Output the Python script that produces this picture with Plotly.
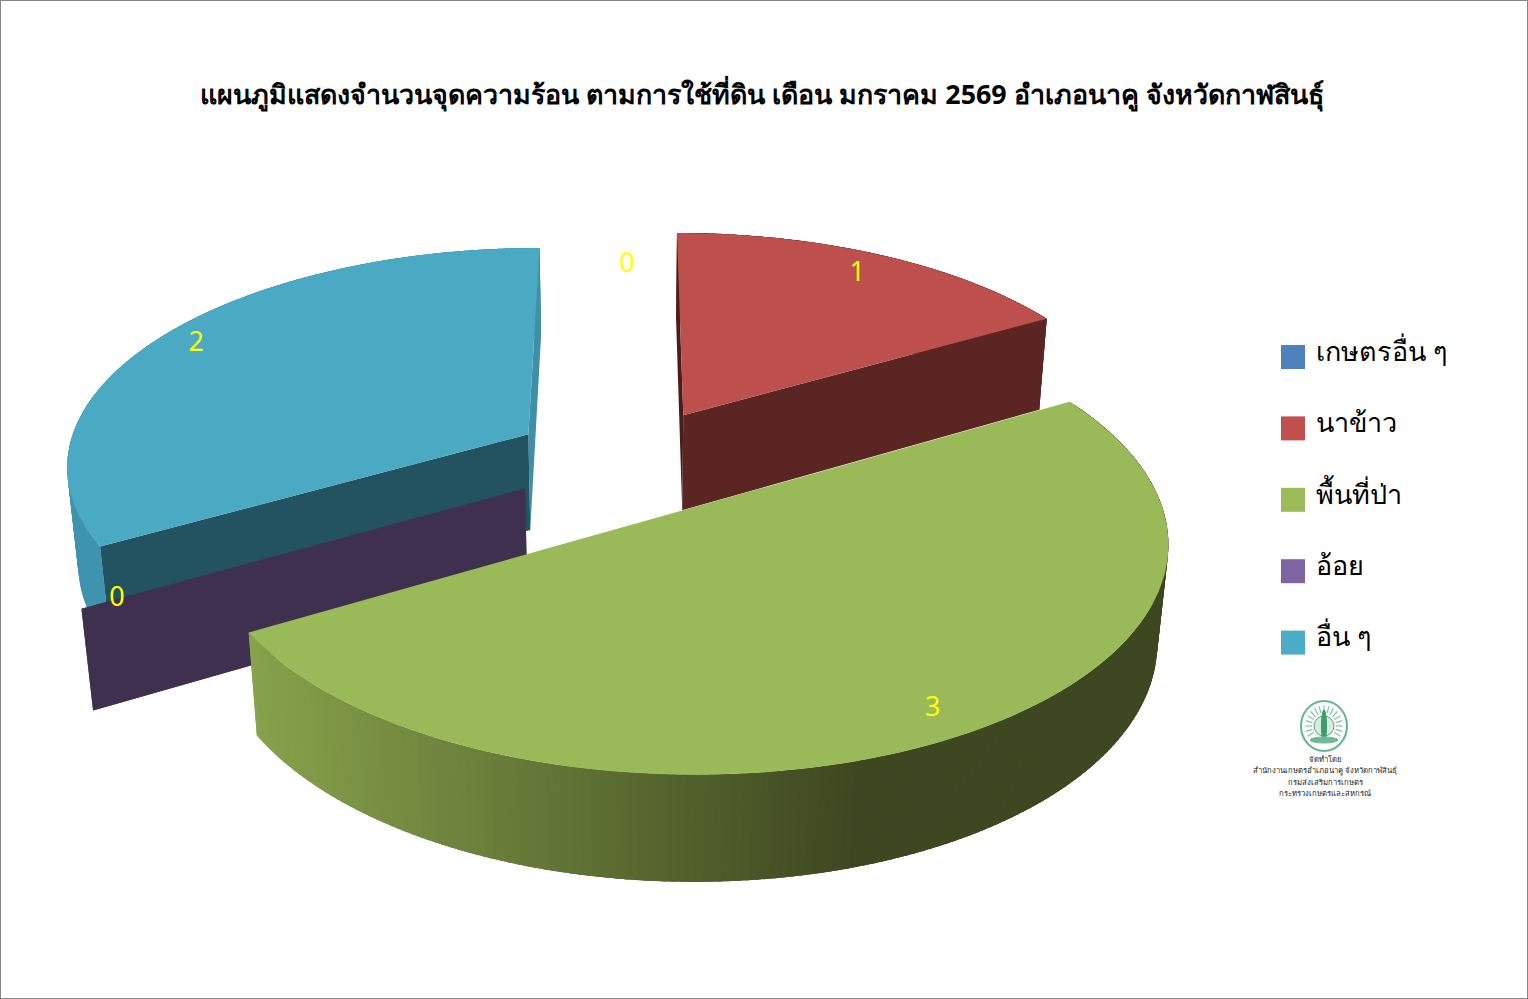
"""3D exploded pie: hotspots by land use, Na Khu district."""
import math

import plotly.graph_objects as go

TITLE = "แผนภูมิแสดงจำนวนจุดความร้อน ตามการใช้ที่ดิน เดือน มกราคม 2569 อำเภอนาคู จังหวัดกาฬสินธุ์"
categories = ["เกษตรอื่น ๆ", "นาข้าว", "พื้นที่ป่า", "อ้อย", "อื่น ๆ"]
values = [0, 1, 3, 0, 2]
legend_colors = ["#4f81bd", "#c0504d", "#9bbb59", "#8064a2", "#4bacc6"]
top_colors = ["#4f81bd", "#bd4f4c", "#9aba59", "#8064a2", "#4aa9c3"]
start_wall_colors = [None, "#4a1c1a", None, "#3f3050", "#235260"]
end_wall_colors = [None, "#5b2523", None, "#3f3050", "#3f8fa8"]
side_colors = [None, "#5b2523", "shade", None, "#3e93ae"]
credit_lines = [
    "จัดทำโดย",
    "สำนักงานเกษตรอำเภอนาคู จังหวัดกาฬสินธุ์",
    "กรมส่งเสริมการเกษตร",
    "กระทรวงเกษตรและสหกรณ์",
]

# camera and pie shape, fitted to the picture
EXPLODE = 0.25
U0, V0 = 627, -1209
SX, SY = 463, 1670
K_DEPTH, K_THICK, THICK = 0.13, 0.02, 132
FONT = "Tahoma, 'Noto Sans', sans-serif"
SHADE_LEFT, SHADE_RIGHT = (135, 162, 75), (61, 71, 32)
SHADE_X0, SHADE_X1 = 250, 860
EMBLEM_X, EMBLEM_Y, EMBLEM_RX, EMBLEM_RY = 1324, 726, 23, 25


def project(x, y, d=0):
    w = 1 + K_DEPTH * y + K_THICK * d
    return U0 + SX * x / w, V0 + (SY + THICK * d) / w


def rim(cx, cy, deg, r=1.0):
    a = math.radians(deg)
    return cx + r * math.sin(a), cy + r * math.cos(a)


def poly(fig, pts, color):
    fig.add_trace(go.Scatter(
        x=[p[0] for p in pts], y=[p[1] for p in pts],
        mode="lines", fill="toself", fillcolor=color,
        line=dict(width=0),
        hoverinfo="skip", showlegend=False,
    ))


def wall(fig, cx, cy, deg, color):
    ex, ey = rim(cx, cy, deg)
    poly(fig, [project(cx, cy), project(ex, ey), project(ex, ey, 1), project(cx, cy, 1)], color)


def side_shade(u):
    t = min(max((u - SHADE_X0) / (SHADE_X1 - SHADE_X0), 0), 1)
    r, g, b = [round(a + (c - a) * t) for a, c in zip(SHADE_LEFT, SHADE_RIGHT)]
    return f"rgb({r},{g},{b})"


def emblem_oval(rx, ry, fill, line, width):
    return dict(type="circle", xref="x", yref="y",
                x0=EMBLEM_X - rx, x1=EMBLEM_X + rx, y0=EMBLEM_Y - ry, y1=EMBLEM_Y + ry,
                fillcolor=fill, line=dict(color=line, width=width))


def emblem_ray(deg, r0, r1):
    a = math.radians(deg)
    return [EMBLEM_X + EMBLEM_RX * r0 * math.sin(a), EMBLEM_X + EMBLEM_RX * r1 * math.sin(a), None], \
           [EMBLEM_Y - EMBLEM_RY * r0 * math.cos(a), EMBLEM_Y - EMBLEM_RY * r1 * math.cos(a), None]


fig = go.Figure()

# slice geometry from the values
total = sum(values)
spans, angle = [], 0
for v in values:
    spans.append((angle, angle + 360 * v / total))
    angle += 360 * v / total
centers = []
for a0, a1 in spans:
    centers.append(rim(0, 0, (a0 + a1) / 2, EXPLODE))

for i in [4, 1, 3, 2]:
    a0, a1 = spans[i]
    cx, cy = centers[i]
    n = max(int(a1 - a0), 1)
    degs = [a0 + (a1 - a0) * k / n for k in range(n + 1)]
    if side_colors[i] and a1 > a0:
        # strips overlap the next one so no seams show; later strips paint over
        for d0, d1 in zip(degs, degs[1:]):
            p0, p1 = rim(cx, cy, d0), rim(cx, cy, min(d1 + 1.5, a1))
            color = side_colors[i]
            if color == "shade":
                color = side_shade((project(*p0)[0] + project(*rim(cx, cy, d1))[0]) / 2)
            poly(fig, [project(*p0), project(*p1), project(*p1, 1), project(*p0, 1)], color)
    if start_wall_colors[i]:
        wall(fig, cx, cy, a1, end_wall_colors[i])
        wall(fig, cx, cy, a0, start_wall_colors[i])
    if a1 > a0:
        poly(fig, [project(cx, cy)] + [project(*rim(cx, cy, d)) for d in degs], top_colors[i])

# data labels
label_r = [0.77, 0.87, 0.9, 0.925, 0.905]
lx, ly = [], []
for (a0, a1), (cx, cy), r in zip(spans, centers, label_r):
    u, v = project(*rim(cx, cy, (a0 + a1) / 2, r))
    lx.append(u)
    ly.append(v)
fig.add_trace(go.Scatter(
    x=lx, y=ly, mode="text", text=[str(v) for v in values],
    textfont=dict(family=FONT, size=27, color="#ffff00"),
    hoverinfo="skip", showlegend=False,
))

# legend
legend_y = [357 + 71.4 * i for i in range(len(categories))]
fig.add_trace(go.Scatter(
    x=[1293] * len(categories), y=legend_y, mode="markers",
    marker=dict(symbol="square", size=24, color=legend_colors),
    hoverinfo="skip", showlegend=False,
))
fig.add_trace(go.Scatter(
    x=[1316] * len(categories), y=[y - 3 for y in legend_y],
    mode="text", text=categories, textposition="middle right",
    textfont=dict(family=FONT, size=27, color="#000000"),
    hoverinfo="skip", showlegend=False,
))

# credit block under the legend
fig.add_trace(go.Scatter(
    x=[1325] * len(credit_lines), y=[760 + 11.3 * i for i in range(len(credit_lines))],
    mode="text", text=credit_lines,
    textfont=dict(family=FONT, size=7.7, color="#222222"),
    hoverinfo="skip", showlegend=False,
))

# department emblem: ring, sun rays, figure in the middle
ray_x, ray_y = [], []
for deg in range(-120, 121, 15):
    rx_, ry_ = emblem_ray(deg, 0.52, 0.82)
    ray_x += rx_
    ray_y += ry_
fig.add_trace(go.Scatter(
    x=ray_x, y=ray_y, mode="lines", line=dict(color="#7cc4a1", width=1.2),
    hoverinfo="skip", showlegend=False,
))
shapes = [
    emblem_oval(EMBLEM_RX, EMBLEM_RY, "rgba(0,0,0,0)", "#62b48e", 2),
    emblem_oval(10, 10, "#d5ecdf", "#4fa67f", 1),
    emblem_oval(2.5, 16, "#3f9a70", "#3f9a70", 1),
    emblem_oval(14, 3, "#6dbb96", "#6dbb96", 1),
]
shapes[3]["y0"] += 14
shapes[3]["y1"] += 14
shapes.append(dict(type="rect", xref="paper", yref="paper", x0=0, y0=0, x1=1, y1=1,
                   line=dict(color="#868686", width=2)))

fig.update_layout(
    title=dict(text=f"<b>{TITLE}</b>", x=762 / 1528, y=1 - 95 / 999, xanchor="center", yanchor="middle",
               font=dict(family=FONT, size=26.8, color="#000000")),
    width=1528, height=999,
    margin=dict(l=0, r=0, t=0, b=0),
    paper_bgcolor="#ffffff", plot_bgcolor="#ffffff",
    xaxis=dict(range=[0, 1528], visible=False),
    yaxis=dict(range=[999, 0], visible=False),
    showlegend=False,
    shapes=shapes,
)

fig.write_html(
    "out.html",
    config=dict(displayModeBar=False),
    post_script="document.body.style.margin='0';document.body.style.overflow='hidden';",
)
